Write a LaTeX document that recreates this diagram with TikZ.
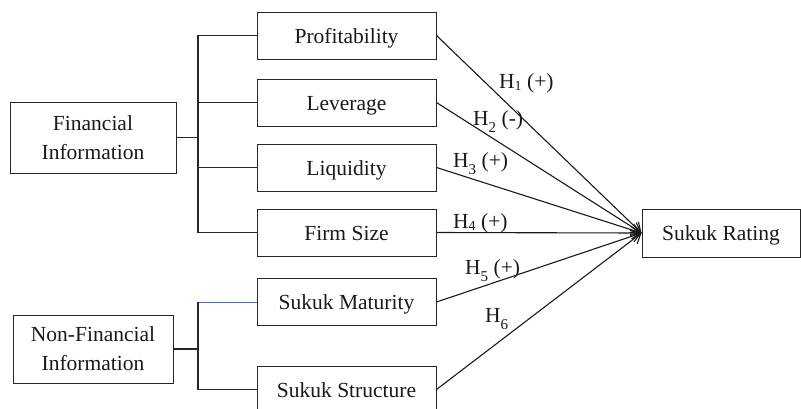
\documentclass[tikz,border=0pt]{standalone}
\usepackage{fontspec}
\setmainfont{Liberation Serif}
\usetikzlibrary{arrows.meta}
\newcommand{\subA}[1]{\raisebox{-2.5pt}{\fontsize{14}{14}\selectfont #1}}
\newcommand{\subB}[1]{\raisebox{-7pt}{\fontsize{15}{15}\selectfont #1}}
\definecolor{linkblue}{HTML}{4472C4}
\begin{document}
\begin{tikzpicture}[x=1pt,y=-1pt,
  every node/.style={font=\fontsize{21.5}{29}\selectfont, text=black!90},
  box/.style={draw=black!85, line width=1pt, rectangle, inner sep=0pt, align=center},
  small/.style={box, minimum width=179pt, minimum height=47pt, text height=15pt, text depth=0pt},
  conn/.style={line width=1.1pt, black!85},
  arr/.style={line width=1.1pt, black!90, -{Straight Barb[length=9pt,width=12pt,line width=1.1pt]}},
  lab/.style={inner sep=0pt, anchor=base west}]
\useasboundingbox (0,0) rectangle (801,408);
% boxes
\node[small] (prof) at (346.5,35.5) {Profitability};
\node[small] (lev) at (346.5,102.5) {Leverage};
\node[small] (liq) at (346.5,167.5) {Liquidity};
\node[small] (firm) at (346.5,232.5) {Firm Size};
\node[small] (mat) at (346.5,302) {Sukuk Maturity};
\node[small] (struc) at (346.5,389.5) {Sukuk Structure};
\node[box, minimum width=166pt, minimum height=71pt] (fin) at (93,137.5) {Financial\\Information};
\node[box, minimum width=160pt, minimum height=68pt] (nonfin) at (93,349) {Non-Financial\\Information};
\node[box, minimum width=158pt, minimum height=48pt, text height=15pt, text depth=0pt] (rating) at (721,233) {Sukuk Rating};
% bus lines
\coordinate (fbus) at (198,137.5);
\coordinate (nbus) at (198,349);
\draw[conn] (fin.east) -- (fbus);
\draw[conn] (prof.west) -| (fbus);
\draw[conn] (firm.west) -| (fbus);
\draw[conn] (lev.west) -- (lev.west -| fbus);
\draw[conn] (liq.west) -- (liq.west -| fbus);
\draw[conn] (nonfin.east) -- (nbus);
\draw[line width=1pt, linkblue] (mat.west) -- (mat.west -| nbus);
\draw[conn] (mat.west -| nbus) -- (nbus);
\draw[conn] (struc.west) -| (nbus);
% arrows
\coordinate (tip) at (rating.west);
\draw[arr] (prof.east) -- (tip);
\draw[arr] (lev.east) -- (tip);
\draw[arr] (liq.east) -- (tip);
\draw[arr] (firm.east) -- (tip);
\draw[arr] (mat.east) -- (tip);
\draw[arr] (struc.east) -- (tip);
% labels
\node[lab] (h1) at (499,88) {H\subA{1} (+)};
\node[lab] (h2) at (473,125) {H\subB{2} (-)};
\node[lab] (h3) at (453,167) {H\subB{3} (+)};
\node[lab] (h4) at (453,228) {H\subA{4} (+)};
\node[lab] (h5) at (465,274) {H\subB{5} (+)};
\node[lab] (h6) at (485,322) {H\subB{6}};
\end{tikzpicture}
\end{document}
